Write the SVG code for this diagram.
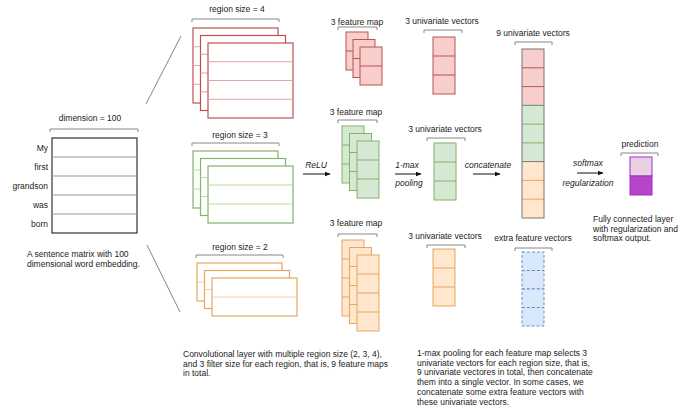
<svg xmlns="http://www.w3.org/2000/svg" width="690" height="409" viewBox="0 0 690 409">
<defs>
<style>
text{font-family:"Liberation Sans",Arial,sans-serif;font-size:8.5px;fill:#222}
.c{text-anchor:middle}
.r{text-anchor:end}
.i{font-style:italic}
.br{fill:none;stroke:#888;stroke-width:1}
.ln{fill:none;stroke:#666;stroke-width:0.8}
.ar{fill:none;stroke:#111;stroke-width:1;marker-end:url(#ah)}
.rf{fill:#fff;stroke:#c0504d;stroke-width:1.2}
.ri{stroke:#e8a0a0;stroke-width:1}
.gf{fill:#fff;stroke:#82b366;stroke-width:1.2}
.gi{stroke:#bcd9a8;stroke-width:1}
.of{fill:#fff;stroke:#eaa560;stroke-width:1.2}
.oi{stroke:#f6cfa5;stroke-width:1}
.rm{fill:#f8cecc;stroke:#b85450;stroke-width:1}
.gm{fill:#d5e8d4;stroke:#82b366;stroke-width:1}
.om{fill:#ffe6cc;stroke:#eaa560;stroke-width:1}
.rl{stroke:#b85450;stroke-width:1}
.gl{stroke:#82b366;stroke-width:1}
.ol{stroke:#eaa560;stroke-width:1}
.bx{fill:#dae8fc;stroke:#6c8ebf;stroke-width:1;stroke-dasharray:3 2}
</style>
<marker id="ah" viewBox="0 0 10 10" refX="9" refY="5" markerWidth="6" markerHeight="6" orient="auto" markerUnits="userSpaceOnUse">
<path d="M0,1 L10,5 L0,9 Z" fill="#111"/>
</marker>
</defs>
<rect width="690" height="409" fill="#fff"/>

<g id="connectors">
<line class="ln" x1="146" y1="104" x2="181" y2="36"/>
<line class="ln" x1="147" y1="245" x2="180" y2="312"/>
<line class="ar" x1="303" y1="174" x2="330" y2="174"/>
<line class="ar" x1="395" y1="174" x2="421" y2="174"/>
<line class="ar" x1="473" y1="174" x2="500" y2="174"/>
<line class="ar" x1="577" y1="173" x2="603" y2="173"/>
<text class="c i" x="316" y="168">ReLU</text>
<text class="c i" x="407" y="168">1-max</text>
<text class="c i" x="409" y="186">pooling</text>
<text class="c i" x="488" y="168">concatenate</text>
<text class="c i" x="588" y="166">softmax</text>
<text class="c i" x="588" y="186">regularization</text>
</g>

<g id="sentence-matrix">
<text class="c" x="90" y="121">dimension = 100</text>
<path class="br" d="M50,132 V129 H138 V132"/>
<rect x="52" y="138" width="85" height="95" fill="#fff" stroke="#333" stroke-width="1.2"/>
<g stroke="#999" stroke-width="1">
<line x1="52" y1="157" x2="137" y2="157"/>
<line x1="52" y1="176" x2="137" y2="176"/>
<line x1="52" y1="195" x2="137" y2="195"/>
<line x1="52" y1="214" x2="137" y2="214"/>
</g>
<text class="r" x="48" y="151">My</text>
<text class="r" x="48" y="170">first</text>
<text class="r" x="48" y="189">grandson</text>
<text class="r" x="48" y="208">was</text>
<text class="r" x="48" y="227">born</text>
<text x="27" y="257">A sentence matrix with 100</text>
<text x="27" y="267">dimensional word embedding.</text>
</g>

<g id="filters-4">
<text class="c" x="237" y="12">region size = 4</text>
<path class="br" d="M192,22 V19 H279 V22"/>
<rect class="rf" x="193" y="28" width="85" height="75"/>
<g class="ri"><line x1="193" y1="46.75" x2="278" y2="46.75"/><line x1="193" y1="65.5" x2="278" y2="65.5"/><line x1="193" y1="84.25" x2="278" y2="84.25"/></g>
<rect class="rf" x="200.5" y="35.5" width="85" height="75"/>
<g class="ri"><line x1="200.5" y1="54.25" x2="285.5" y2="54.25"/><line x1="200.5" y1="73" x2="285.5" y2="73"/><line x1="200.5" y1="91.75" x2="285.5" y2="91.75"/></g>
<rect class="rf" x="208" y="43" width="85" height="75"/>
<g class="ri"><line x1="208.6" y1="61.75" x2="292.4" y2="61.75"/><line x1="208.6" y1="80.5" x2="292.4" y2="80.5"/><line x1="208.6" y1="99.25" x2="292.4" y2="99.25"/></g>
</g>

<g id="filters-3">
<text class="c" x="240" y="138">region size = 3</text>
<path class="br" d="M192,146 V143 H279 V146"/>
<rect class="gf" x="193" y="151" width="85" height="57"/>
<g class="gi"><line x1="193" y1="170" x2="278" y2="170"/><line x1="193" y1="189" x2="278" y2="189"/></g>
<rect class="gf" x="200.5" y="158.5" width="85" height="57"/>
<g class="gi"><line x1="200.5" y1="177.5" x2="285.5" y2="177.5"/><line x1="200.5" y1="196.5" x2="285.5" y2="196.5"/></g>
<rect class="gf" x="208" y="166" width="85" height="57"/>
<g class="gi"><line x1="208.6" y1="185" x2="292.4" y2="185"/><line x1="208.6" y1="204" x2="292.4" y2="204"/></g>
</g>

<g id="filters-2">
<text class="c" x="240" y="250">region size = 2</text>
<path class="br" d="M196,258 V255 H283 V258"/>
<rect class="of" x="197" y="263" width="85" height="38"/>
<line class="oi" x1="197" y1="282" x2="282" y2="282"/>
<rect class="of" x="204.5" y="270.5" width="85" height="38"/>
<line class="oi" x1="204.5" y1="289.5" x2="289.5" y2="289.5"/>
<rect class="of" x="212" y="278" width="85" height="38"/>
<line class="oi" x1="212.6" y1="297" x2="296.4" y2="297"/>
</g>

<g id="feature-maps-red">
<text class="c" x="357" y="25">3 feature map</text>
<path class="br" d="M338,30 V27 H377 V30"/>
<rect class="rm" x="346" y="32" width="22" height="38"/><line class="rl" x1="346" y1="51" x2="368" y2="51"/>
<rect class="rm" x="353" y="39.5" width="22" height="38"/><line class="rl" x1="353" y1="58.5" x2="375" y2="58.5"/>
<rect class="rm" x="360" y="47" width="22" height="38"/><line class="rl" x1="360" y1="66" x2="382" y2="66"/>
</g>

<g id="feature-maps-green">
<text class="c" x="356" y="115">3 feature map</text>
<path class="br" d="M338,123 V120 H377 V123"/>
<rect class="gm" x="342" y="126" width="22" height="57"/><line class="gl" x1="342" y1="145" x2="364" y2="145"/><line class="gl" x1="342" y1="164" x2="364" y2="164"/>
<rect class="gm" x="349.5" y="133.5" width="22" height="57"/><line class="gl" x1="349.5" y1="152.5" x2="371.5" y2="152.5"/><line class="gl" x1="349.5" y1="171.5" x2="371.5" y2="171.5"/>
<rect class="gm" x="357" y="141" width="22" height="57"/><line class="gl" x1="357" y1="160" x2="379" y2="160"/><line class="gl" x1="357" y1="179" x2="379" y2="179"/>
</g>

<g id="feature-maps-orange">
<text class="c" x="356" y="226">3 feature map</text>
<path class="br" d="M338,237 V234 H377 V237"/>
<rect class="om" x="342" y="240" width="22" height="76"/><g class="ol"><line x1="342" y1="259" x2="364" y2="259"/><line x1="342" y1="278" x2="364" y2="278"/><line x1="342" y1="297" x2="364" y2="297"/></g>
<rect class="om" x="349.5" y="247.5" width="22" height="76"/><g class="ol"><line x1="349.5" y1="266.5" x2="371.5" y2="266.5"/><line x1="349.5" y1="285.5" x2="371.5" y2="285.5"/><line x1="349.5" y1="304.5" x2="371.5" y2="304.5"/></g>
<rect class="om" x="357" y="255" width="22" height="76"/><g class="ol"><line x1="357" y1="274" x2="379" y2="274"/><line x1="357" y1="293" x2="379" y2="293"/><line x1="357" y1="312" x2="379" y2="312"/></g>
</g>

<g id="vectors-red">
<text class="c" x="442" y="24">3 univariate vectors</text>
<path class="br" d="M424,33 V30 H462 V33"/>
<rect class="rm" x="433" y="37" width="22" height="57"/>
<line class="rl" x1="433" y1="56" x2="455" y2="56"/><line class="rl" x1="433" y1="75" x2="455" y2="75"/>
</g>

<g id="vectors-green">
<text class="c" x="445" y="132">3 univariate vectors</text>
<path class="br" d="M427,141 V138 H465 V141"/>
<rect class="gm" x="434" y="143" width="22" height="57"/>
<line class="gl" x1="434" y1="162" x2="456" y2="162"/><line class="gl" x1="434" y1="181" x2="456" y2="181"/>
</g>

<g id="vectors-orange">
<text class="c" x="445" y="239">3 univariate vectors</text>
<path class="br" d="M427,248 V245 H465 V248"/>
<rect class="om" x="433" y="249" width="22" height="57"/>
<line class="ol" x1="433" y1="268" x2="455" y2="268"/><line class="ol" x1="433" y1="287" x2="455" y2="287"/>
</g>

<g id="concatenated">
<text class="c" x="533" y="36">9 univariate vectors</text>
<path class="br" d="M515,45 V42 H552 V45"/>
<rect x="522" y="49" width="22" height="56.3" fill="#f8cecc"/>
<rect x="522" y="105.3" width="22" height="56.3" fill="#d5e8d4"/>
<rect x="522" y="161.6" width="22" height="56.4" fill="#ffe6cc"/>
<line class="rl" x1="522" y1="67.8" x2="544" y2="67.8"/>
<line class="rl" x1="522" y1="86.6" x2="544" y2="86.6"/>
<line x1="522" y1="105.3" x2="544" y2="105.3" stroke="#6a8a5a" stroke-width="1"/>
<line class="gl" x1="522" y1="124.1" x2="544" y2="124.1"/>
<line class="gl" x1="522" y1="142.9" x2="544" y2="142.9"/>
<line x1="522" y1="161.6" x2="544" y2="161.6" stroke="#777" stroke-width="1"/>
<line class="ol" x1="522" y1="180.4" x2="544" y2="180.4"/>
<line class="ol" x1="522" y1="199.2" x2="544" y2="199.2"/>
<rect x="522" y="49" width="22" height="169" fill="none" stroke="#777" stroke-width="1"/>
</g>

<g id="extra-features">
<text class="c" x="533" y="241">extra feature vectors</text>
<path class="br" d="M515,251 V248 H552 V251"/>
<rect class="bx" x="522" y="252" width="22" height="18.5"/>
<rect class="bx" x="522" y="270.5" width="22" height="18.5"/>
<rect class="bx" x="522" y="289" width="22" height="18.5"/>
<rect class="bx" x="522" y="307.5" width="22" height="18.5"/>
</g>

<g id="prediction">
<text class="c" x="640" y="147">prediction</text>
<path class="br" d="M621,156 V153 H658 V156"/>
<rect x="630" y="157" width="22" height="19" fill="#e8d2e2" stroke="#a02fd0" stroke-width="1"/>
<rect x="630" y="176" width="22" height="19" fill="#b546c8" stroke="#a02fd0" stroke-width="1"/>
<text x="593" y="222">Fully connected layer</text>
<text x="593" y="231.5">with regularization and</text>
<text x="593" y="241">softmax output.</text>
</g>

<g id="captions">
<text x="183" y="357">Convolutional layer with multiple region size (2, 3, 4),</text>
<text x="183" y="366.7">and 3 filter size for each region, that is, 9 feature maps</text>
<text x="183" y="376.4">in total.</text>
<text x="417" y="356">1-max pooling for each feature map selects  3</text>
<text x="417" y="365.7">univariate vectors for each region size, that is,</text>
<text x="417" y="375.4">9 univariate vectores in total, then concatenate</text>
<text x="417" y="385.1">them into a single vector. In some cases, we</text>
<text x="417" y="394.8">concatenate some extra feature vectors with</text>
<text x="417" y="404.5">these univariate vectors.</text>
</g>
</svg>
